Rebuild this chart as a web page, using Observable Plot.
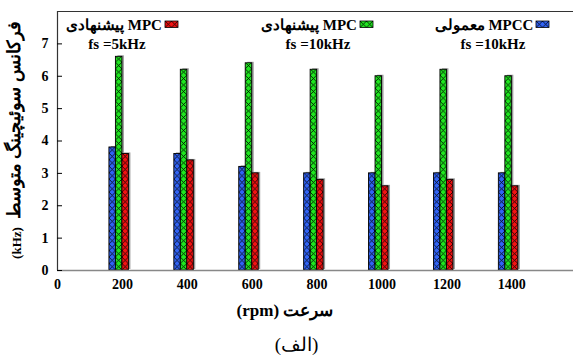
<!DOCTYPE html>
<html><head><meta charset="utf-8">
<script src="https://cdn.jsdelivr.net/npm/d3@7"></script>
<script src="https://cdn.jsdelivr.net/npm/@observablehq/plot@0.6"></script>
<style>
body{margin:0;background:#fff;}
#cap{font-family:"Liberation Serif",serif;font-size:19px;text-align:center;width:573px;direction:rtl;height:39px;line-height:46px;padding-left:20px;box-sizing:border-box;}
</style>
</head><body><div id="chart"></div><div id="cap">(الف)</div>
<script>
const speeds = [200, 400, 600, 800, 1000, 1200, 1400];
const mpccConv10 = [3.8, 3.6, 3.2, 3.0, 3.0, 3.0, 3.0];
const mpcProp10 = [6.6, 6.2, 6.4, 6.2, 6.0, 6.2, 6.0];
const mpcProp5 = [3.6, 3.4, 3.0, 2.8, 2.6, 2.8, 2.6];
const seriesNames = ["MPCC معمولی", "MPC پیشنهادی", "MPC پیشنهادی"];
const seriesRates = ["fs =10kHz", "fs =10kHz", "fs =5kHz"];
const seriesColors = ["#3163f5", "#1fe61f", "#f21212"];
const xTicks = [0, 200, 400, 600, 800, 1000, 1200, 1400];
const yTicks = [0, 1, 2, 3, 4, 5, 6, 7];
const yLabel = "فرکانس سوئیچینگ متوسط";
const yUnit = "(kHz)";
const xLabel = "سرعت (rpm)";

const seriesVals = [mpccConv10, mpcProp10, mpcProp5];
const rows = [];
seriesVals.forEach((vals, s) => vals.forEach((v, i) => rows.push({s, i, speed: speeds[i], value: v})));
const off = [-40, -20, 0];
const bw = 20;
const bx1 = d => d.speed + off[d.s];
const bx2 = d => d.speed + off[d.s] + bw;

const plot = Plot.plot({
  width: 573, height: 322,
  marginLeft: 57, marginRight: 0, marginTop: 11, marginBottom: 52,
  x: {domain: [0, 1590]},
  y: {domain: [0, 8]},
  color: {type: "identity"},
  style: {fontFamily: "Liberation Serif", fontWeight: "bold", fontSize: "14px", color: "#000", background: "#fff"},
  marks: [
    Plot.rect(rows, {x1: bx1, x2: bx2, y1: 0, y2: "value", fill: "#9a9a9a", dx: 2, dy: -1}),
    Plot.rect(rows, {x1: bx1, x2: bx2, y1: 0, y2: "value", fill: d => `url(#h${d.s}_${d.i})`, stroke: "#000", strokeWidth: 0.9}),
    Plot.ruleY([0], {stroke: "#888", strokeWidth: 1.5}),
    Plot.ruleX([0], {stroke: "#333", strokeWidth: 1.2}),
    Plot.ruleY([8], {stroke: "#333", strokeWidth: 1.2}),
    Plot.axisY({ticks: yTicks, tickSize: -5, tickFormat: () => "", label: null}),
    Plot.axisY({ticks: yTicks, tickSize: 0, tickPadding: 9, label: null, fontSize: 14, tickFormat: d => String(d)}),
    Plot.axisX({ticks: xTicks, tickSize: 0, tickPadding: 9, label: null, fontSize: 14, tickFormat: d => String(d)})
  ]
});
document.getElementById("chart").appendChild(plot);

const svg = d3.select(plot.tagName.toLowerCase() === "svg" ? plot : plot.querySelector("svg"));
const xs = plot.scale("x"), ys = plot.scale("y");
const defs = svg.insert("defs", ":first-child");
function addPattern(id, color, x0, y0, w) {
  const p = defs.append("pattern").attr("id", id).attr("patternUnits", "userSpaceOnUse")
    .attr("x", x0).attr("y", y0).attr("width", w).attr("height", w);
  p.append("rect").attr("width", w).attr("height", w).attr("fill", color);
  p.append("path").attr("d", `M0,0L${w},${w}M${w},0L0,${w}`).attr("stroke", "#000").attr("stroke-width", 0.8).attr("fill", "none");
}
rows.forEach(d => {
  const x0 = xs.apply(bx1(d));
  const w = xs.apply(bx2(d)) - x0;
  addPattern(`h${d.s}_${d.i}`, seriesColors[d.s], x0, ys.apply(0), w);
});

// legend
const legend = [
  {s: 2, cx: 114, sw: 165, cx2: 117},
  {s: 1, cx: 309, sw: 360, cx2: 318},
  {s: 0, cx: 484, sw: 536, cx2: 493}
];
legend.forEach(L => {
  addPattern(`lg${L.s}`, seriesColors[L.s], L.sw, 21, 6.5);
  svg.append("rect").attr("x", L.sw).attr("y", 21).attr("width", 13).attr("height", 6.5)
    .attr("fill", `url(#lg${L.s})`).attr("stroke", "#000").attr("stroke-width", 0.8);
  svg.append("text").attr("x", L.cx).attr("y", 30).attr("text-anchor", "middle")
    .attr("direction", "rtl").style("direction", "rtl")
    .attr("font-family", "Liberation Serif").attr("font-weight", "bold").attr("font-size", 15)
    .text(seriesNames[L.s]);
  svg.append("text").attr("x", L.cx2).attr("y", 49).attr("text-anchor", "middle")
    .attr("font-family", "Liberation Serif").attr("font-weight", "bold").attr("font-size", 15)
    .text(seriesRates[L.s]);
});

// axis labels
svg.append("text").attr("transform", "translate(20,120) rotate(-90)").attr("text-anchor", "middle")
  .style("direction", "rtl").attr("font-family", "Liberation Serif").attr("font-weight", "bold").attr("font-size", 18)
  .text(yLabel);
svg.append("text").attr("transform", "translate(21,243) rotate(-90)").attr("text-anchor", "middle")
  .attr("font-family", "Liberation Serif").attr("font-weight", "bold").attr("font-size", 13)
  .text(yUnit);
svg.append("text").attr("x", 285).attr("y", 316).attr("text-anchor", "middle")
  .style("direction", "rtl").attr("font-family", "Liberation Serif").attr("font-weight", "bold").attr("font-size", 17)
  .text(xLabel);
</script>
</body></html>
